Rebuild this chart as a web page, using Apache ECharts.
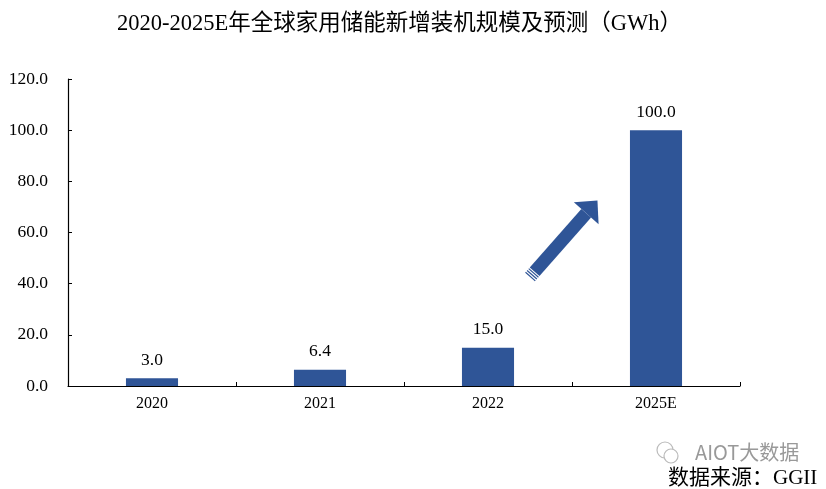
<!DOCTYPE html>
<html>
<head>
<meta charset="utf-8">
<script src="https://cdn.jsdelivr.net/npm/echarts@6/dist/echarts.min.js"></script>
<style>
  html, body { margin: 0; padding: 0; background: #fff; }
  #chart { width: 826px; height: 489px; }
</style>
</head>
<body>
<div id="chart"></div>
<script>
const years = ["2020", "2021", "2022", "2025E"];
const installs = [3.0, 6.4, 15.0, 100.0];
const y_ticks = [0, 20, 40, 60, 80, 100, 120];

const serif = "'Liberation Serif', 'Times New Roman', 'Noto Sans CJK SC', serif";
const bar_color = "#2F5597";

const chart = echarts.init(document.getElementById("chart"));

// block arrow pointing to the 2025E bar, drawn along +x then rotated
const arrow_len = 102;
const head_len = 17;
const arrow = {
  type: "group",
  x: 530,
  y: 277,
  rotation: (48.6 * Math.PI) / 180,
  children: [
    { type: "rect", shape: { x: 0, y: -6.5, width: 1.2, height: 13 }, style: { fill: bar_color } },
    { type: "rect", shape: { x: 2.4, y: -6.5, width: 1.2, height: 13 }, style: { fill: bar_color } },
    { type: "rect", shape: { x: 4.8, y: -6.5, width: 1.2, height: 13 }, style: { fill: bar_color } },
    {
      type: "rect",
      shape: { x: 7, y: -6.5, width: arrow_len - head_len - 7, height: 13 },
      style: { fill: bar_color },
    },
    {
      type: "polygon",
      shape: {
        points: [
          [arrow_len - head_len, -16.5],
          [arrow_len, 0],
          [arrow_len - head_len, 16.5],
        ],
      },
      style: { fill: bar_color },
    },
  ],
};

// wechat-like watermark icon
const wm_icon = {
  type: "group",
  x: 657,
  y: 441,
  children: [
    { type: "circle", shape: { cx: 8, cy: 9, r: 8 }, style: { fill: "none", stroke: "#bbb", lineWidth: 1.2 } },
    { type: "circle", shape: { cx: 14, cy: 15, r: 7 }, style: { fill: "#fff", stroke: "#bbb", lineWidth: 1.2 } },
  ],
};

chart.setOption({
  backgroundColor: "#fff",
  animation: false,
  title: {
    text: "2020-2025E年全球家用储能新增装机规模及预测（GWh）",
    left: 112,
    top: 8,
    textStyle: { color: "#000", fontSize: 22.5, fontWeight: "normal", fontFamily: serif },
  },
  grid: { left: 68, right: 86, top: 79, bottom: 103 },
  xAxis: {
    type: "category",
    data: years,
    axisLine: { lineStyle: { color: "#000", width: 1.2 } },
    axisTick: { show: true, inside: true, length: 4, lineStyle: { color: "#000" } },
    axisLabel: { color: "#000", fontSize: 16, fontFamily: serif, margin: 10 },
  },
  yAxis: {
    type: "value",
    min: y_ticks[0],
    max: y_ticks[y_ticks.length - 1],
    interval: y_ticks[1] - y_ticks[0],
    axisLine: { show: true, lineStyle: { color: "#000", width: 1.2 } },
    axisTick: { show: true, inside: true, length: 4, lineStyle: { color: "#000" } },
    splitLine: { show: false },
    axisLabel: {
      color: "#000",
      fontSize: 17.5,
      fontFamily: serif,
      margin: 20,
      formatter: (v) => v.toFixed(1),
    },
  },
  series: [
    {
      type: "bar",
      data: installs,
      barWidth: "31%",
      itemStyle: { color: bar_color },
      label: {
        show: true,
        position: "top",
        distance: 9,
        color: "#000",
        fontSize: 17.5,
        fontFamily: serif,
        formatter: (p) => p.value.toFixed(1),
      },
    },
  ],
  graphic: [
    arrow,
    wm_icon,
    {
      type: "text",
      x: 695,
      y: 452,
      style: {
        text: "AIOT大数据",
        fill: "#999",
        font: "20px 'Noto Sans CJK SC', 'Noto Sans', sans-serif",
        verticalAlign: "middle",
      },
    },
    {
      type: "text",
      x: 668,
      y: 478,
      style: {
        text: "数据来源：GGII",
        fill: "#000",
        font: "21px " + serif,
        verticalAlign: "middle",
      },
    },
  ],
});
</script>
</body>
</html>
